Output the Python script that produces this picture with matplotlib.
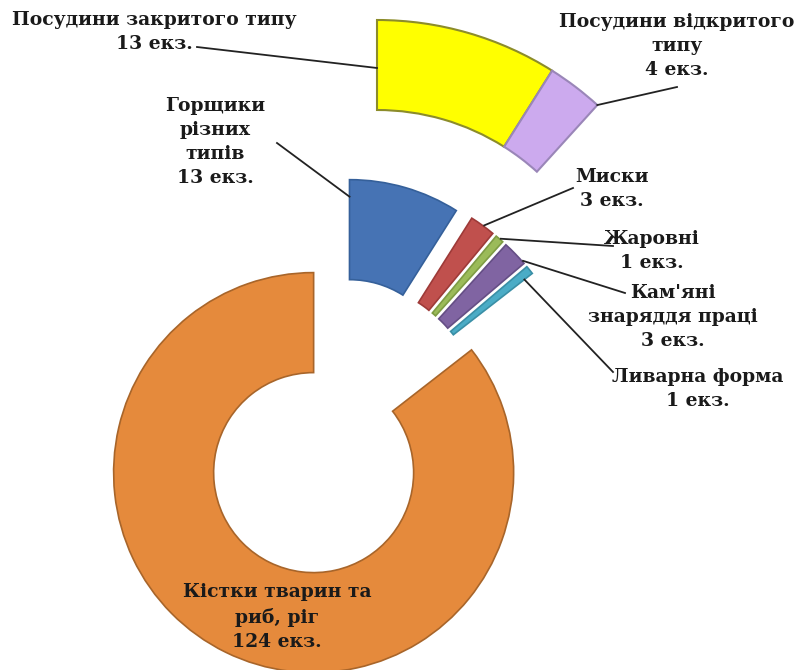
import numpy as np
import matplotlib.pyplot as plt
from matplotlib.patches import Wedge

# inner ring (series 1)
inner_labels = ["Горщики\nрізних\nтипів\n13 екз.", "Миски\n3 екз.", "Жаровні\n1 екз.",
                "Кам'яні\nзнаряддя праці\n3 екз.", "Ливарна форма\n1 екз.",
                "Кістки тварин та\nриб, ріг\n124 екз."]
inner_values = [13, 3, 1, 3, 1, 124]
inner_colors = ['#4673B4', '#C0504D', '#9BBB59', '#8064A2', '#4BACC6', '#E58A3C']
inner_edges = ['#35609A', '#9E3A38', '#7E9C44', '#654E85', '#3A8FA6', '#A8652A']

# outer ring (series 2, remainder hidden)
outer_labels = ["Посудини закритого типу\n13 екз.", "Посудини відкритого\nтипу\n4 екз."]
outer_values = [13, 4]
outer_colors = ['#FFFF00', '#CCAAEE']
outer_edges = ['#8C8C2A', '#9A86B8']

total = sum(inner_values)

W, H = 801, 670
fig = plt.figure(figsize=(W / 100, H / 100), dpi=100)
ax = fig.add_axes([0, 0, 1, 1])
ax.set_xlim(0, W)
ax.set_ylim(0, H)
ax.set_aspect('equal')
ax.axis('off')

T = np.array([335.6, H - 427.7])   # chart centre (pixels, y up)
r_in, r_out = 100, 200
explode = 50

def direction(a):
    # a: degrees clockwise from 12 o'clock
    return np.array([np.sin(np.radians(a)), np.cos(np.radians(a))])

inner_geom = []
start = 0.0
for v, fc, ec in zip(inner_values, inner_colors, inner_edges):
    span = v / total * 360
    mid = start + span / 2
    c = T + explode * direction(mid)
    ax.add_patch(Wedge(c, r_out, 90 - (start + span), 90 - start, width=r_out - r_in,
                       facecolor=fc, edgecolor=ec, linewidth=1.2))
    inner_geom.append((c, start, start + span))
    start += span

C2 = T + np.array([41.4, 79.7])
r2_in, r2_out = 238, 328
outer_geom = []
start = 0.0
for v, fc, ec in zip(outer_values, outer_colors, outer_edges):
    span = v / total * 360
    ax.add_patch(Wedge(C2, r2_out, 90 - (start + span), 90 - start, width=r2_out - r2_in,
                       facecolor=fc, edgecolor=ec, linewidth=1.5))
    outer_geom.append((C2, start, start + span))
    start += span

def point(geom, frac, r):
    c, a0, a1 = geom
    return c + r * direction(a0 + frac * (a1 - a0))

font = dict(family='DejaVu Serif', fontweight='bold', fontsize=13.5, color='#1a1a1a',
            ha='center', va='center', linespacing=1.42)

def label(txt, x, y, line_from, anchor):
    ax.text(x, H - y, txt, **font)
    ax.plot([line_from[0], anchor[0]], [H - line_from[1], anchor[1]],
            color='#222222', linewidth=1.3)

# outer ring labels
label(outer_labels[0], 154, 32, (197, 47), point(outer_geom[0], 0.0, 280))
label(outer_labels[1], 677, 46, (677, 87), point(outer_geom[1], 1.0, r2_out))
# inner ring labels
label(inner_labels[0], 215, 142, (277, 143), point(inner_geom[0], 0.0, 183))
label(inner_labels[1], 612, 189, (573, 188), point(inner_geom[1], 0.55, 201))
label(inner_labels[2], 652, 251, (613, 246), point(inner_geom[2], 0.6, 201))
label(inner_labels[3], 673, 317, (625, 293), point(inner_geom[3], 0.9, 201))
label(inner_labels[4], 698, 389, (613, 372), point(inner_geom[4], 1.0, 190))
ax.text(277, H - 617, inner_labels[5], **font)

fig.savefig('out.png', dpi=100, facecolor='white')
